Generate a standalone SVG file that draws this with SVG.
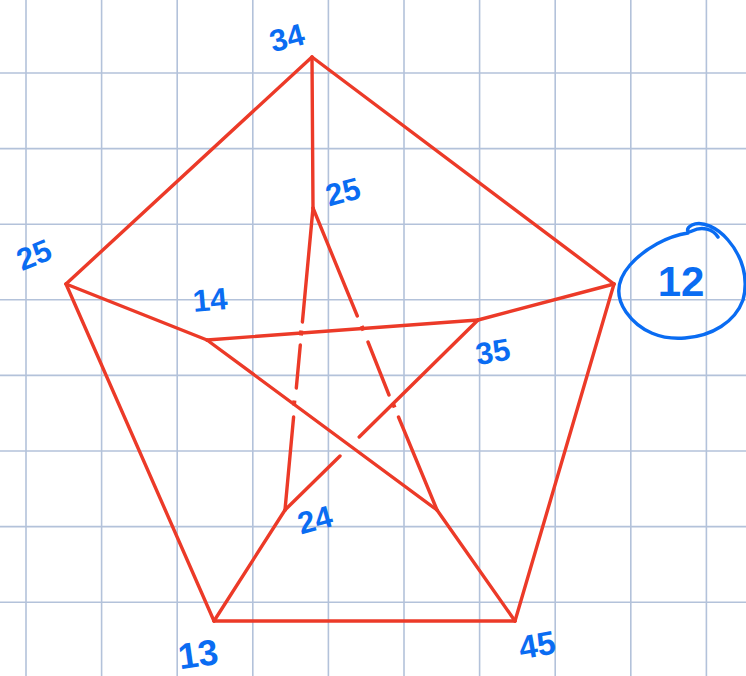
<svg xmlns="http://www.w3.org/2000/svg" width="746" height="676" viewBox="0 0 746 676">
<style>
.grid line{stroke:#b3c2da;stroke-width:1.6}
.edge{stroke:#ec3a28;stroke-width:3.4;stroke-linecap:round;fill:none}
.tick{stroke:#ec3a28;stroke-width:4;stroke-linecap:butt}
.lbl{font-family:"Liberation Sans","Noto Sans",sans-serif;font-weight:700;fill:#0a6cf2;text-anchor:middle;dominant-baseline:central}
.ring{stroke:#0a6cf2;stroke-width:3.4;fill:none;stroke-linecap:round;stroke-linejoin:round}
</style>
<rect width="746" height="676" fill="#ffffff"/>
<g class="grid">
<line x1="26" y1="0" x2="26" y2="676"/>
<line x1="101.6" y1="0" x2="101.6" y2="676"/>
<line x1="177.2" y1="0" x2="177.2" y2="676"/>
<line x1="252.8" y1="0" x2="252.8" y2="676"/>
<line x1="328.4" y1="0" x2="328.4" y2="676"/>
<line x1="404" y1="0" x2="404" y2="676"/>
<line x1="479.6" y1="0" x2="479.6" y2="676"/>
<line x1="555.2" y1="0" x2="555.2" y2="676"/>
<line x1="630.8" y1="0" x2="630.8" y2="676"/>
<line x1="706.4" y1="0" x2="706.4" y2="676"/>
<line x1="0" y1="73" x2="746" y2="73"/>
<line x1="0" y1="148.6" x2="746" y2="148.6"/>
<line x1="0" y1="224.2" x2="746" y2="224.2"/>
<line x1="0" y1="299.8" x2="746" y2="299.8"/>
<line x1="0" y1="375.4" x2="746" y2="375.4"/>
<line x1="0" y1="451" x2="746" y2="451"/>
<line x1="0" y1="526.6" x2="746" y2="526.6"/>
<line x1="0" y1="602.2" x2="746" y2="602.2"/>
</g>
<g id="connectors">
<path class="edge" d="M312,57 L66,284"/>
<path class="edge" d="M312,57 L614,284"/>
<path class="edge" d="M66,284 L214,621"/>
<path class="edge" d="M614,284 L515,621"/>
<path class="edge" d="M214,621 L515,621"/>
<path class="edge" d="M312,57 L313,208"/>
<path class="edge" d="M66,284 L207,340"/>
<path class="edge" d="M614,284 L478,320"/>
<path class="edge" d="M214,621 L285,510"/>
<path class="edge" d="M515,621 L437,510"/>
<path class="edge" d="M207,340 L478,320"/>
<path class="edge" d="M207,340 L437,510"/>
<path class="edge" d="M313,208 L302.4,322 M300.3,345 L296.3,388 M293.6,417 L285,510"/>
<path class="edge" d="M313,208 L357.3,316 M368,342 L389,395 M398.5,417 L437,510"/>
<path class="edge" d="M478,320 L359.2,437 M340,456 L285,510"/>
<path class="tick" d="M301.3,330.5 L300.9,335.5 M294.4,400.5 L294,405.5 M361.6,326 L363.5,330.6 M392.8,403 L394.6,407.6"/>
</g>
<g id="n34"><text class="lbl" x="287" y="38" font-size="31" transform="rotate(-15 287 38)">34</text></g>
<g id="n25-inner"><text class="lbl" x="343" y="192" font-size="31" transform="rotate(-15 343 192)">25</text></g>
<g id="n25-outer"><text class="lbl" x="34" y="255" font-size="31" transform="rotate(-22 34 255)">25</text></g>
<g id="n14"><text class="lbl" x="210" y="300" font-size="31" transform="rotate(-5 210 300)">14</text></g>
<g id="n12">
<path class="ring" d="M688,233 C668,236 645,248 630,265 C617,280 615,296 626,312 C640,332 662,340 685,338 C712,336 735,322 743,300 C749,278 742,256 728,240 C718,228 702,220 692,225 C686,228 686,234 692,231 C702,226 713,229 718,237"/>
<text class="lbl" x="681" y="281" font-size="42">12</text>
</g>
<g id="n35"><text class="lbl" x="493" y="352" font-size="31" transform="rotate(-10 493 352)">35</text></g>
<g id="n24"><text class="lbl" x="315" y="520" font-size="31" transform="rotate(-15 315 520)">24</text></g>
<g id="n13"><text class="lbl" x="198" y="654" font-size="36" transform="rotate(-8 198 654)">13</text></g>
<g id="n45"><text class="lbl" x="537" y="645" font-size="33" transform="rotate(-10 537 645)">45</text></g>
</svg>
